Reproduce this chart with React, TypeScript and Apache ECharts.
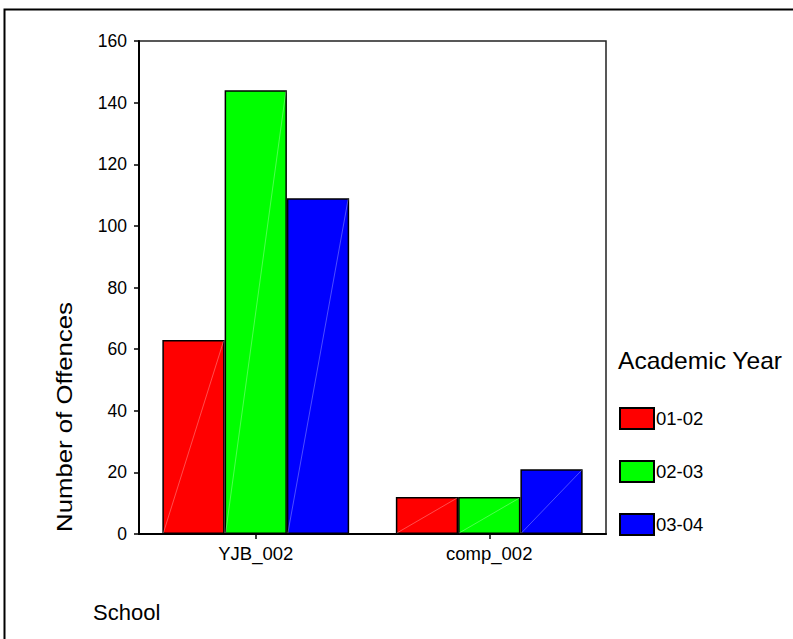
import React, { useEffect, useRef } from "react";
import * as echarts from "echarts";

const categories = ["YJB_002", "comp_002"];
const seriesNames = ["01-02", "02-03", "03-04"];
const values0102 = [63, 12];
const values0203 = [144, 12];
const values0304 = [109, 21];
const colors = ["#ff0000", "#00ff00", "#0000ff"];
const yTicks = { min: 0, max: 160, interval: 20 };

const FONT = "'Liberation Sans', Arial, Helvetica, sans-serif";

export default function App() {
  const ref = useRef<HTMLDivElement>(null);
  useEffect(() => {
    if (!ref.current) return;
    const chart = echarts.init(ref.current, undefined, { renderer: "svg" });
    const allValues = [values0102, values0203, values0304];
    const barSeries = allValues.map((vals, i) => ({
      name: seriesNames[i],
      type: "bar",
      data: vals,
      barGap: "0%",
      barCategoryGap: "20%",
      itemStyle: { color: colors[i], borderColor: "#000", borderWidth: 1.5 },
      emphasis: { disabled: true },
    }));
    const diagData: number[][] = [];
    allValues.forEach((vals, s) => vals.forEach((v, c) => diagData.push([c, v, s])));
    const diagSeries = {
      type: "custom",
      silent: true,
      z: 5,
      data: diagData,
      renderItem: (params: any, api: any) => {
        const c = api.value(0);
        const v = api.value(1);
        const s = api.value(2);
        const top = api.coord([c, v]);
        const base = api.coord([c, 0]);
        const band = api.size([1, 0])[0];
        const w = (band * 0.8) / 3;
        const x0 = top[0] - 1.5 * w + s * w;
        return {
          type: "line",
          shape: { x1: x0 + 1, y1: base[1] - 1, x2: x0 + w - 1, y2: top[1] + 1 },
          style: { stroke: "rgba(255,255,255,0.3)", lineWidth: 1 },
        };
      },
    };
    chart.setOption({
      animation: false,
      backgroundColor: "#fff",
      textStyle: { fontFamily: FONT },
      grid: {
        left: 139,
        top: 41,
        right: 187,
        bottom: 105,
        show: true,
        borderColor: "#222",
        borderWidth: 1.5,
        containLabel: false,
      },
      legend: {
        data: seriesNames,
        orient: "vertical",
        left: 614,
        top: 402,
        itemWidth: 34,
        itemHeight: 21,
        itemGap: 30,
        icon: "rect",
        selectedMode: false,
        textStyle: { fontSize: 18.5, color: "#000", fontFamily: FONT, padding: [0, 0, 0, -3] },
      },
      xAxis: {
        type: "category",
        data: categories,
        axisLine: { show: true, lineStyle: { color: "#000", width: 2 } },
        axisTick: { show: true, alignWithLabel: true, length: 5, lineStyle: { color: "#000", width: 1.5 } },
        axisLabel: { fontSize: 18.5, color: "#000", margin: 10, fontFamily: FONT },
        splitLine: { show: false },
      },
      yAxis: {
        type: "value",
        min: yTicks.min,
        max: yTicks.max,
        interval: yTicks.interval,
        axisLine: { show: true, lineStyle: { color: "#000", width: 2 } },
        axisTick: { show: true, length: 5, lineStyle: { color: "#000", width: 1.5 } },
        axisLabel: { fontSize: 17.5, color: "#000", margin: 12, fontFamily: FONT },
        splitLine: { show: false },
      },
      graphic: [
        {
          type: "rect",
          shape: { x: 4.5, y: 9.5, width: 900, height: 800 },
          style: { fill: "none", stroke: "#000", lineWidth: 2 },
          silent: true,
        },
        {
          type: "text",
          x: 64,
          y: 417,
          rotation: Math.PI / 2,
          scaleX: 1.12,
          style: {
            text: "Number of Offences",
            fontSize: 23,
            fontFamily: FONT,
            fill: "#000",
            align: "center",
            verticalAlign: "middle",
          },
        },
        {
          type: "text",
          x: 93,
          y: 612,
          style: {
            text: "School",
            fontSize: 22,
            fontFamily: FONT,
            fill: "#000",
            align: "left",
            verticalAlign: "middle",
          },
        },
        {
          type: "text",
          x: 618,
          y: 361,
          scaleX: 1.07,
          style: {
            text: "Academic Year",
            fontSize: 23,
            fontFamily: FONT,
            fill: "#000",
            align: "left",
            verticalAlign: "middle",
          },
        },
      ],
      series: [...barSeries, diagSeries],
    });
    return () => chart.dispose();
  }, []);
  return (
    <div
      ref={ref}
      style={{ position: "fixed", left: 0, top: 0, width: 793, height: 639, background: "#fff" }}
    />
  );
}
